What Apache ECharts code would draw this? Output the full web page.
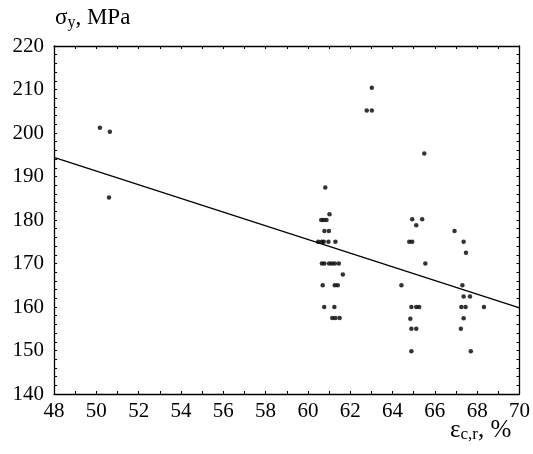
<!DOCTYPE html>
<html><head><meta charset="utf-8">
<script src="https://cdn.jsdelivr.net/npm/echarts@6/dist/echarts.min.js"></script>
<style>html,body{margin:0;padding:0;background:#fff}#c{width:533px;height:454px}</style>
</head><body><div id="c"></div>
<script>
// Strain values (%) of measured points
const strainX = [
  50.17, 50.64, 50.6,
  62.78, 63.02, 63.02,
  60.82, 61.02, 60.63, 60.75, 60.88, 60.78, 60.99,
  60.49, 60.66, 60.75, 60.97, 61.30,
  60.66, 60.78, 61.0, 61.13, 61.27, 61.46,
  61.65, 60.7, 61.27, 61.41, 60.77, 61.25, 61.15, 61.3, 61.5,
  65.5, 64.93, 65.4, 65.12, 64.79, 64.93, 65.55, 64.42,
  64.89, 65.12, 65.26, 64.84, 64.89, 65.12, 64.89,
  66.93, 67.36, 67.47, 67.3, 67.36, 67.66, 67.25, 67.45, 68.32, 67.36, 67.23, 67.7
];
// Yield stress values (MPa) of measured points
const stressY = [
  201.2, 200.3, 185.2,
  205.2, 205.2, 210.4,
  187.5, 181.3, 180, 180, 180, 177.5, 177.5,
  175, 175, 175, 175, 175,
  170, 170, 170, 170, 170, 170,
  167.5, 165, 165, 165, 160, 160, 157.5, 157.5, 157.5,
  195.3, 180.2, 180.2, 178.8, 175, 175, 170, 165,
  160, 160, 160, 157.3, 155, 155, 149.8,
  177.5, 175, 172.5, 165, 162.4, 162.4, 160, 160, 160, 157.4, 155, 149.8
];
// Regression line end points
const fitX = [48, 70];
const fitY = [194.4, 159.8];
// Axis ranges / ticks
const xRange = [48, 70], xStep = 2;
const yRange = [140, 220], yStep = 10;

const font = 'Liberation Serif';
const pts = strainX.map((x, i) => [x, stressY[i]]);
const fit = fitX.map((x, i) => [x, fitY[i]]);

const tick = {show: true, inside: true, length: 3, lineStyle: {color: '#000', width: 1}};
const minor = {show: true, splitNumber: 0, length: 3, lineStyle: {color: '#000', width: 1}};
const line = {show: true, lineStyle: {color: '#000', width: 1.3}};
function xa(pos, labels) {
  return {type: 'value', position: pos, min: xRange[0], max: xRange[1], interval: xStep,
    axisLine: Object.assign({onZero: false}, line), axisTick: tick,
    minorTick: Object.assign({}, minor, {splitNumber: 2}),
    splitLine: {show: false},
    axisLabel: {show: labels, color: '#000', fontFamily: font, fontSize: 21, margin: 7}};
}
function ya(pos, labels) {
  return {type: 'value', position: pos, min: yRange[0], max: yRange[1], interval: yStep,
    axisLine: Object.assign({onZero: false}, line), axisTick: tick,
    minorTick: Object.assign({}, minor, {splitNumber: 5}),
    splitLine: {show: false},
    axisLabel: {show: labels, color: '#000', fontFamily: font, fontSize: 21, margin: 10}};
}
function rich(sz, ssz) {
  return {
    a: {fontFamily: font, fontSize: sz, fontWeight: 'normal', color: '#000', lineHeight: 26},
    s: {fontFamily: font, fontSize: ssz, fontWeight: 'normal', color: '#000', lineHeight: 10, verticalAlign: 'bottom'}
  };
}
const chart = echarts.init(document.getElementById('c'));
chart.setOption({
  animation: false,
  backgroundColor: '#fff',
  grid: {left: 54, right: 12, top: 46, bottom: 60},
  title: [
    {text: '{a|σ}{s|y}{a|, MPa}', left: 55, top: 5, padding: 0,
     textStyle: {fontWeight: 'normal', rich: rich(23, 16)}},
    {text: '{a|ε}{s|c,r}{a|, %}', left: 450, top: 417, padding: 0,
     textStyle: {fontWeight: 'normal', rich: rich(25, 17)}}
  ],
  xAxis: [xa('bottom', true), xa('top', false)],
  yAxis: [ya('left', true), ya('right', false)],
  series: [
    {type: 'scatter', data: pts, symbolSize: 4.5, itemStyle: {color: '#000'}},
    {type: 'line', data: fit, symbol: 'none', lineStyle: {color: '#000', width: 1.2}}
  ]
});
</script></body></html>
